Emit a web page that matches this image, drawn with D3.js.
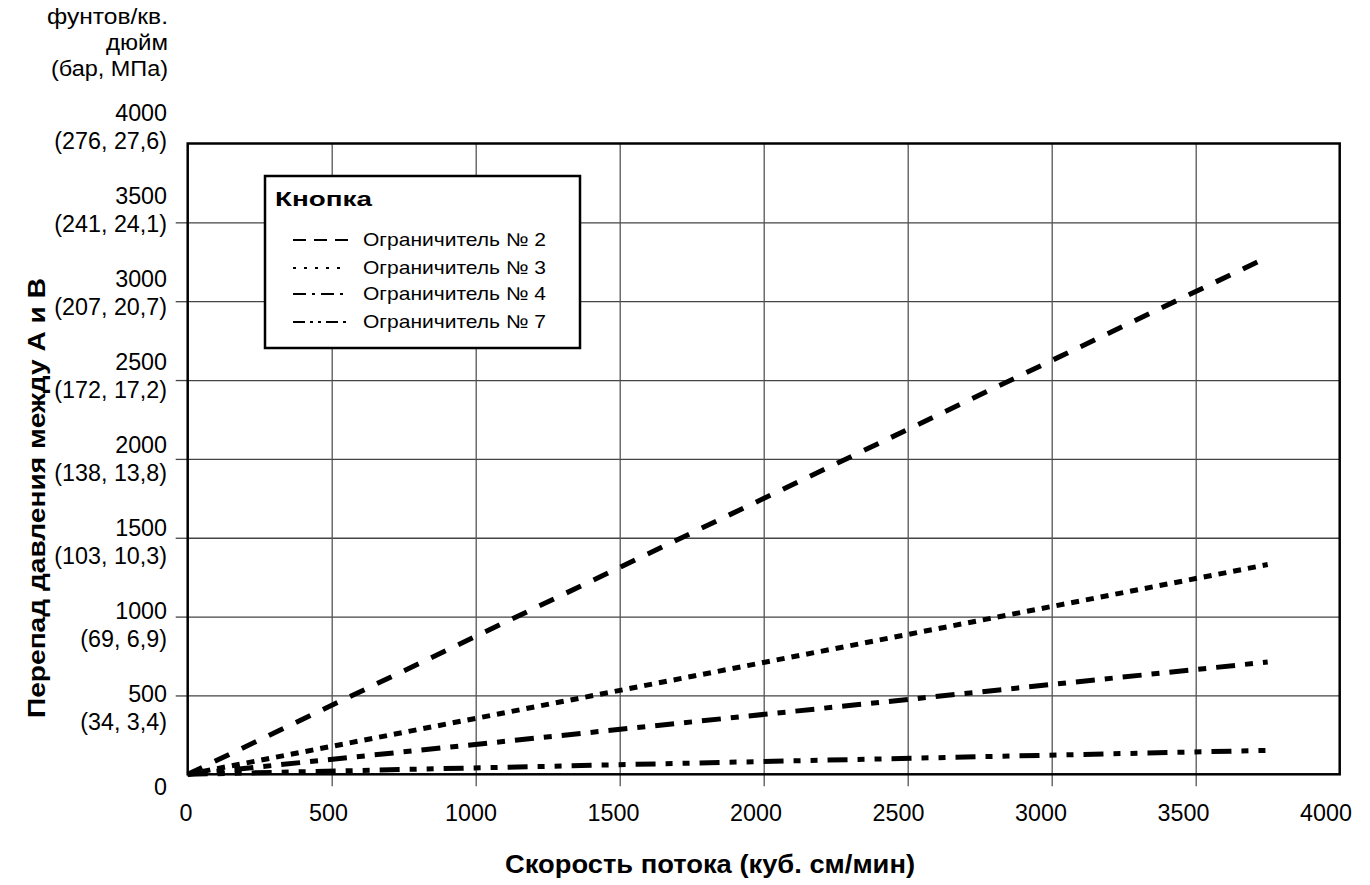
<!DOCTYPE html>
<head>
  <meta charset="utf-8" />
  <script src="https://cdn.jsdelivr.net/npm/d3@7"></script>
  <style>
    body { margin: 0; background: #fff; }
    svg { display: block; font-family: "Liberation Sans", Arial, Helvetica, sans-serif; }
  </style>
</head>
<body>
  <svg width="1370" height="885"></svg>
  <script>
    // flow rate (cc/min) at the two ends of each restrictor line
    const flowRates = [0, 3750];
    // pressure drop A-B in psi
    const restrictor2 = [0, 3280];
    const restrictor3 = [0, 1330];
    const restrictor4 = [0, 712];
    const restrictor7 = [0, 152];

    const seriesNames = ["Ограничитель № 2", "Ограничитель № 3", "Ограничитель № 4", "Ограничитель № 7"];

    const xTicks = [0, 500, 1000, 1500, 2000, 2500, 3000, 3500, 4000];
    const yTicks = [0, 500, 1000, 1500, 2000, 2500, 3000, 3500, 4000];
    const yMetric = ["", "(34, 3,4)", "(69, 6,9)", "(103, 10,3)", "(138, 13,8)", "(172, 17,2)", "(207, 20,7)", "(241, 24,1)", "(276, 27,6)"];
    const unitLines = ["фунтов/кв.", "дюйм", "(бар, МПа)"];

    const svg = d3.select("svg");
    const pLeft = 187.7, pRight = 1339.7, pTop = 143.5, pBottom = 774.3;

    const x = d3.scaleLinear().domain([0, 4000]).range([pLeft, pRight]);
    const y = d3.scaleLinear().domain([0, 4000]).range([pBottom, pTop]);
    // tick labels in the original drift a little from the grid
    const xLabel = d3.scaleLinear().domain([0, 4000]).range([186, 1326]);
    const yLabel = d3.scaleLinear().domain([0, 500, 4000]).range([786.5, 694, 113]);

    // grid
    svg.append("g").attr("transform", `translate(${pLeft},0)`)
      .call(d3.axisLeft(y).tickValues(yTicks.slice(1, -1)).tickSize(-(pRight - pLeft)).tickFormat(""))
      .call(g => g.select(".domain").remove())
      .call(g => g.selectAll("line").attr("stroke", "#444").attr("stroke-width", 1.3));
    svg.append("g").attr("transform", `translate(0,${pBottom})`)
      .call(d3.axisBottom(x).tickValues(xTicks.slice(1, -1)).tickSize(-(pBottom - pTop)).tickFormat(""))
      .call(g => g.select(".domain").remove())
      .call(g => g.selectAll("line").attr("stroke", "#555").attr("stroke-width", 1.3));

    // outer tick marks
    svg.append("g").attr("transform", `translate(${pLeft},0)`)
      .call(d3.axisLeft(y).tickValues(yTicks.slice(1, -1)).tickSize(12).tickFormat(""))
      .call(g => g.select(".domain").remove())
      .call(g => g.selectAll("line").attr("stroke", "#444").attr("stroke-width", 1.3));
    svg.append("g").attr("transform", `translate(0,${pBottom})`)
      .call(d3.axisBottom(x).tickValues(xTicks.slice(1, -1)).tickSize(12).tickFormat(""))
      .call(g => g.select(".domain").remove())
      .call(g => g.selectAll("line").attr("stroke", "#555").attr("stroke-width", 1.3));

    // series lines
    const series = [
      { name: seriesNames[0], values: restrictor2, dash: "16,14", legendDash: "13,8" },
      { name: seriesNames[1], values: restrictor3, dash: "8,7", legendDash: "3,8" },
      { name: seriesNames[2], values: restrictor4, dash: "19,10,8,10", legendDash: "13,6,3,6" },
      { name: seriesNames[3], values: restrictor7, dash: "20,10,7,10,7,10", legendDash: "12,5,3,5,3,5" }
    ];
    const line = d3.line().x(d => x(d[0])).y(d => y(d[1]));
    svg.append("g").selectAll("path").data(series).enter().append("path")
      .attr("d", s => line(flowRates.map((f, i) => [f, s.values[i]])))
      .attr("fill", "none")
      .attr("stroke", "#000")
      .attr("stroke-width", 5)
      .attr("stroke-dasharray", s => s.dash);

    // frame
    svg.append("rect")
      .attr("x", pLeft).attr("y", pTop)
      .attr("width", pRight - pLeft).attr("height", pBottom - pTop)
      .attr("fill", "none").attr("stroke", "#000").attr("stroke-width", 2.5);

    // y tick labels
    const yl = svg.append("g").attr("font-size", 23.3).attr("text-anchor", "end").attr("fill", "#000");
    yTicks.forEach((v, i) => {
      yl.append("text").attr("x", 167).attr("y", yLabel(v) + 8).text(v);
      if (yMetric[i]) yl.append("text").attr("x", 167).attr("y", yLabel(v) + 36).text(yMetric[i]);
    });
    const unitWidths = [121, 62, 117];
    unitLines.forEach((t, i) => {
      yl.append("text").attr("x", 168).attr("y", 24 + i * 26)
        .attr("font-size", 22.5)
        .attr("textLength", unitWidths[i]).attr("lengthAdjust", "spacingAndGlyphs")
        .text(t);
    });

    // x tick labels
    svg.append("g").attr("font-size", 23.3).attr("text-anchor", "middle")
      .selectAll("text").data(xTicks).enter().append("text")
      .attr("x", d => xLabel(d)).attr("y", 820.5).text(d => d);

    // axis titles
    svg.append("text").attr("x", 505).attr("y", 873)
      .attr("font-size", 25).attr("font-weight", "bold")
      .attr("textLength", 410).attr("lengthAdjust", "spacingAndGlyphs")
      .text("Скорость потока (куб. см/мин)");
    svg.append("text").attr("transform", "translate(45,718) rotate(-90)")
      .attr("font-size", 23).attr("font-weight", "bold")
      .attr("textLength", 440).attr("lengthAdjust", "spacingAndGlyphs")
      .text("Перепад давления между А и В");

    // legend
    const lg = svg.append("g");
    lg.append("rect").attr("x", 265).attr("y", 176).attr("width", 315).attr("height", 172)
      .attr("fill", "#fff").attr("stroke", "#000").attr("stroke-width", 2.5);
    lg.append("text").attr("x", 275).attr("y", 206).attr("font-size", 21).attr("font-weight", "bold")
      .attr("textLength", 97).attr("lengthAdjust", "spacingAndGlyphs")
      .text("Кнопка");
    const rows = [246, 274, 300, 328];
    series.forEach((s, i) => {
      lg.append("line").attr("x1", 293).attr("x2", 348)
        .attr("y1", rows[i] - 6).attr("y2", rows[i] - 6)
        .attr("stroke", "#000").attr("stroke-width", 1.8).attr("stroke-dasharray", s.legendDash);
      lg.append("text").attr("x", 363).attr("y", rows[i]).attr("font-size", 18.5)
        .attr("textLength", 183).attr("lengthAdjust", "spacingAndGlyphs")
        .text(s.name);
    });
  </script>
</body>
